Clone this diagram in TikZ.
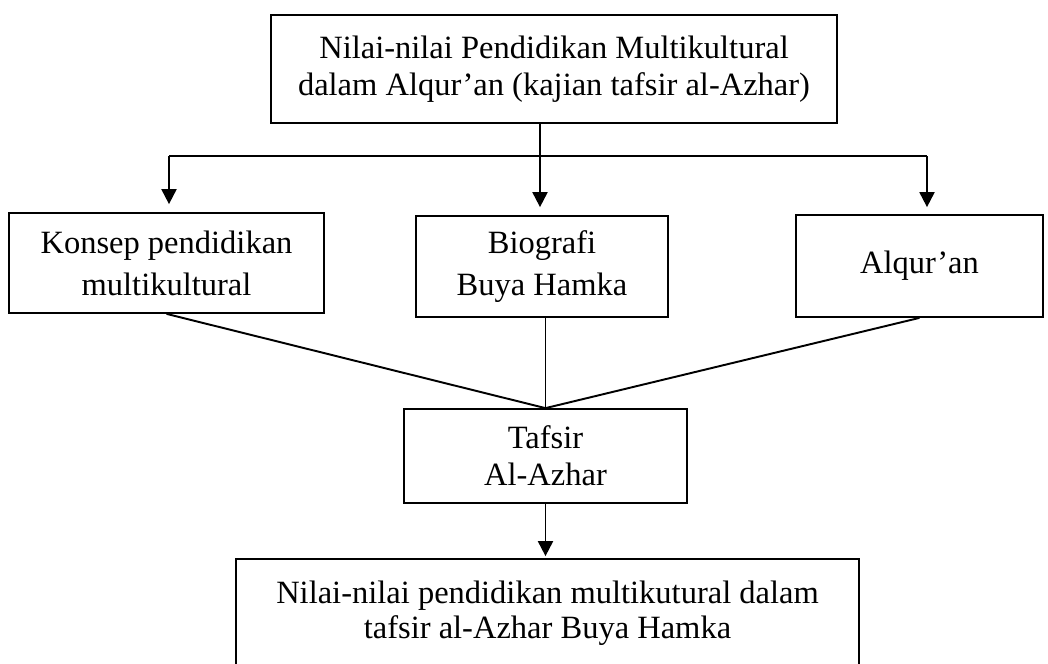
\documentclass[tikz,border=0pt]{standalone}
\usepackage{fontspec}
\setmainfont{Liberation Serif}
\usetikzlibrary{arrows.meta}

\begin{document}
\begin{tikzpicture}[x=0.02cm, y=-0.02cm,
    kotak/.style={draw, line width=1pt, align=center, inner sep=0pt,
      font=\fontsize{18.5}{21}\selectfont},
    renggang/.style={font=\fontsize{18.5}{24}\selectfont},
    panah/.style={-{Triangle[width=0.3cm,length=0.3cm]}, line width=1.1pt},
    garis/.style={line width=1.1pt}]

    \clip (0,0) rectangle (1048,663);

    % judul penelitian
    \node[kotak, minimum width=11.32cm, minimum height=2.16cm] (judul) at (554,69)
        {Nilai-nilai Pendidikan Multikultural\\dalam Alqur’an (kajian tafsir al-Azhar)};

    % tiga kajian
    \node[kotak, renggang, minimum width=6.3cm, minimum height=2cm] (konsep) at (166.5,263)
        {Konsep pendidikan\\multikultural};
    \node[kotak, renggang, minimum width=5.04cm, minimum height=2.02cm] (biografi) at (542,266.5)
        {Biografi\\Buya Hamka};
    \node[kotak, renggang, minimum width=4.94cm, minimum height=2.04cm] (alquran) at (919.5,266)
        {Alqur’an};

    % tafsir dan hasil
    \node[kotak, minimum width=5.66cm, minimum height=1.88cm] (tafsir) at (545.5,456)
        {Tafsir\\Al-Azhar};
    \node[kotak, font=\fontsize{18.5}{20}\selectfont, minimum width=12.46cm, minimum height=2.16cm] (hasil) at (547.5,613)
        {Nilai-nilai pendidikan multikutural dalam\\tafsir al-Azhar Buya Hamka};

    % cabang ke tiga kajian
    \coordinate (kiri) at (169,156);
    \coordinate (pusat) at (540,156);
    \coordinate (kanan) at (927,156);
    \draw[garis] (kiri) -- (kanan);
    \draw[panah, shorten >=0.16cm] (pusat |- judul.south) -- (pusat |- biografi.north);
    \draw[panah, shorten >=0.16cm] (kiri) -- (kiri |- konsep.north);
    \draw[panah, shorten >=0.14cm] (kanan) -- (kanan |- alquran.north);

    % garis bertemu di tafsir
    \draw[garis] (konsep.south) -- (tafsir.north);
    \draw[garis] (tafsir.north |- biografi.south) -- (tafsir.north);
    \draw[garis] (alquran.south) -- (tafsir.north);
    \draw[panah, shorten >=0.04cm] (tafsir.south) -- (tafsir.south |- hasil.north);
\end{tikzpicture}
\end{document}
